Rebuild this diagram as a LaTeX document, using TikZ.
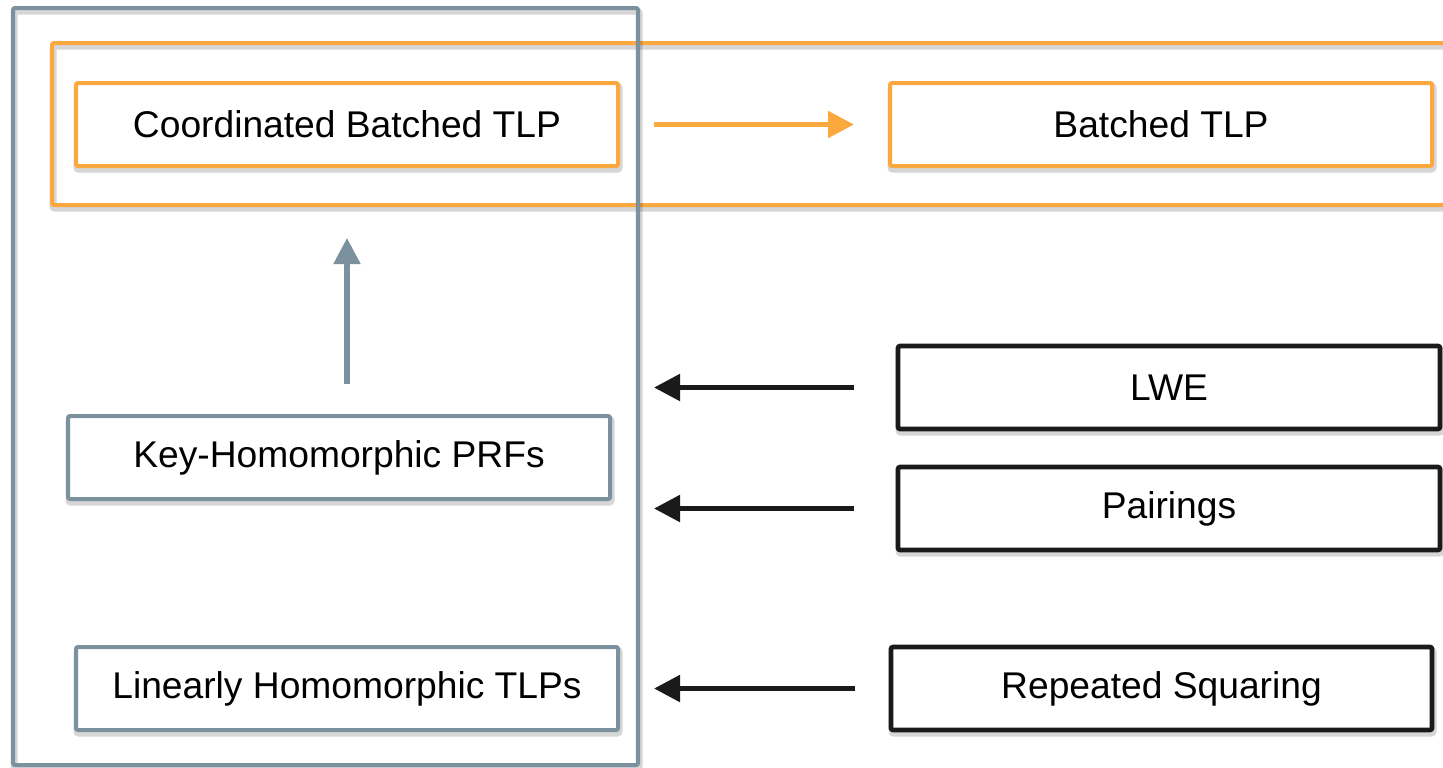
\documentclass[tikz,border=0pt]{standalone}
\usepackage{fontspec}
\setmainfont{Liberation Sans}
\usetikzlibrary{arrows.meta,shadows}
\definecolor{tlporange}{HTML}{FBA83F}
\definecolor{coregray}{HTML}{7B919E}
\definecolor{inkblack}{HTML}{1A1A1A}
\tikzset{
  softshadow/.style={general shadow={draw=black, opacity=.16, line width=3.5pt,
      shadow xshift=.5pt, shadow yshift=-1.6pt}},
  box/.style={rectangle, rounded corners=1pt, line width=2pt, fill=white,
      minimum width=271pt, minimum height=41.5pt, inner sep=0pt,
      font=\fontsize{18.6pt}{22pt}\selectfont, text=black, softshadow},
  orangebox/.style={box, draw=tlporange},
  graybox/.style={box, draw=coregray},
  blackbox/.style={box, draw=inkblack, line width=2.3pt},
  frame/.style={rectangle, rounded corners=1pt, line width=2pt, inner sep=0pt, softshadow},
  link/.style={line width=2.6pt, -{Triangle[length=13pt,width=13pt]}},
}
\begin{document}
\begin{tikzpicture}[x=0.5pt, y=-0.5pt]
  \useasboundingbox (0,0) rectangle (1443,767);

  % group around the two batched constructions
  \node[frame, draw=tlporange, minimum width=704pt, minimum height=81pt]
    (group) at (756,124) {};
  % main framework column
  \node[frame, draw=coregray, minimum width=312.5pt, minimum height=378.5pt]
    (core) at (325.5,386.5) {};

  % boxes
  \node[orangebox] (cbt)  at (347,124.5)    {Coordinated Batched TLP};
  \node[orangebox] (btlp) at (1161,124.5)   {Batched TLP};
  \node[graybox]   (kh)   at (339,457.5)    {Key-Homomorphic PRFs};
  \node[graybox]   (lh)   at (347,688.5)    {Linearly Homomorphic TLPs};
  \node[blackbox]  (lwe)  at (1169,387.5)   {LWE};
  \node[blackbox]  (pair) at (1169,508.5)   {Pairings};
  \node[blackbox, minimum width=270.5pt] (rs) at (1161.5,688.5) {Repeated Squaring};

  % implications
  \draw[link, draw=tlporange, fill=tlporange, shorten <=17pt, shorten >=17pt]
    (cbt.east) -- (btlp.west);
  \draw[link, draw=coregray, fill=coregray, shorten <=15pt, shorten >=35pt]
    (kh.north -| cbt.south) -- (cbt.south);
  \draw[link, draw=inkblack, fill=inkblack, shorten <=21pt, shorten >=7pt]
    (lwe.west) -- (lwe.west -| core.east);
  \draw[link, draw=inkblack, fill=inkblack, shorten <=21pt, shorten >=7pt]
    (pair.west) -- (pair.west -| core.east);
  \draw[link, draw=inkblack, fill=inkblack, shorten <=17pt, shorten >=7pt]
    (rs.west) -- (rs.west -| core.east);
\end{tikzpicture}
\end{document}
